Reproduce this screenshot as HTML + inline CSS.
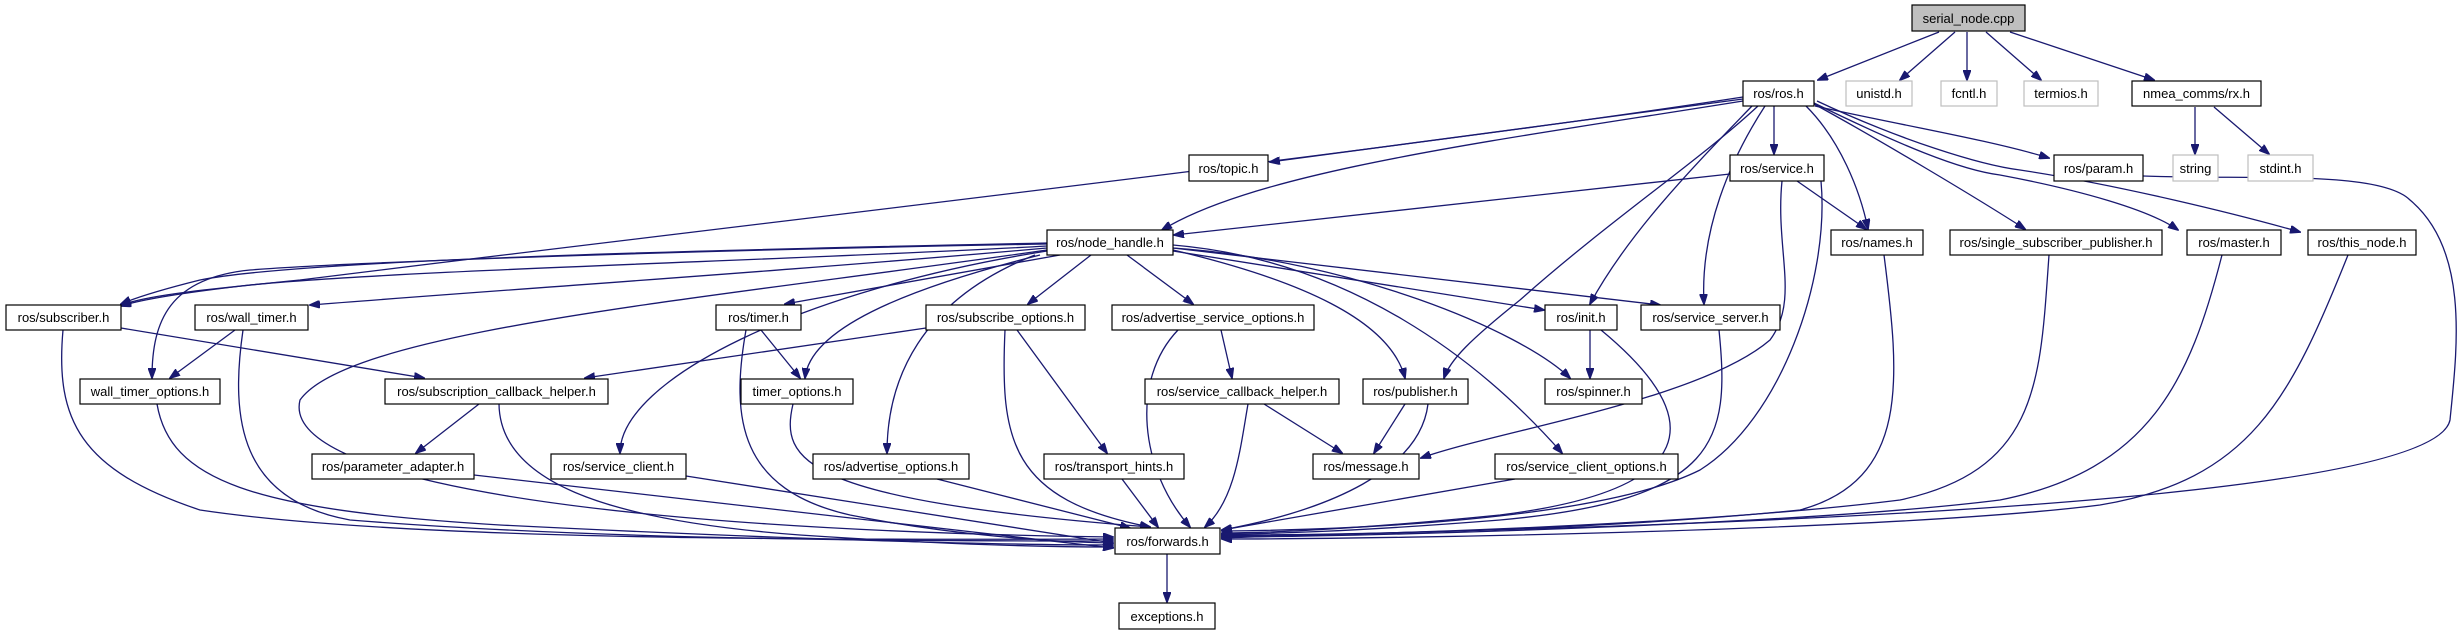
<!DOCTYPE html>
<html><head><meta charset="utf-8"><style>
html,body{margin:0;padding:0;background:#fff;}
svg{display:block;}
text{font-family:"Liberation Sans",sans-serif;font-size:13px;fill:#000;}
.b{fill:#fff;stroke:#000;stroke-width:1.2;}
.g{fill:#fff;stroke:#bfbfbf;stroke-width:1.2;}
.e{fill:none;stroke:#191970;stroke-width:1.3;marker-end:url(#a);}
</style></head><body>
<svg width="2462" height="635" viewBox="0 0 2462 635" xmlns="http://www.w3.org/2000/svg">
<defs><marker id="a" markerUnits="userSpaceOnUse" markerWidth="11" markerHeight="8" refX="10" refY="4" orient="auto"><path d="M0,0 L11,4 L0,8 z" fill="#191970" stroke="#191970"/></marker></defs>
<g>
<path class="e" d="M1939,32 L1818,80"/>
<path class="e" d="M1955,32 L1900,80"/>
<path class="e" d="M1967,32 L1967,80"/>
<path class="e" d="M1986,32 L2041,80"/>
<path class="e" d="M2010,32 L2154,80"/>
<path class="e" d="M2195,107 L2195,154"/>
<path class="e" d="M2214,107 L2269,154"/>
<path class="e" d="M1815,106 C1900,125 1990,140 2049,158"/>
<path class="e" d="M1743,99 L1270,162"/>
<path class="e" d="M1743,101 C1500,140 1260,170 1162,230"/>
<path class="e" d="M1743,97 C1400,150 700,230 300,280 C200,290 150,295 121,305"/>
<path class="e" d="M1774,106 L1774,154"/>
<path class="e" d="M1806,106 C1840,140 1860,190 1868,229"/>
<path class="e" d="M1814,104 C1880,140 1980,200 2025,229"/>
<path class="e" d="M1814,103 C1900,145 1960,170 2000,175 C2080,190 2150,210 2178,230"/>
<path class="e" d="M1817,101 C1900,140 1980,165 2020,170 C2120,185 2240,215 2300,232"/>
<path class="e" d="M1758,106 C1700,160 1610,220 1520,300 C1470,340 1450,360 1444,378"/>
<path class="e" d="M1752,106 C1700,160 1630,230 1590,304"/>
<path class="e" d="M1765,106 C1730,160 1700,230 1704,304"/>
<path class="e" d="M1730,174 L1174,235"/>
<path class="e" d="M1797,181 L1866,229"/>
<path class="e" d="M1782,181 C1775,250 1800,300 1770,340 C1700,400 1500,430 1421,458"/>
<path class="e" d="M1821,181 C1830,280 1780,420 1700,470 C1600,520 1350,530 1222,531"/>
<path class="e" d="M2143,176 C2250,180 2380,170 2410,200 C2470,250 2457,350 2450,420 C2430,520 1400,530 1222,538"/>
<path class="e" d="M1884,255 C1900,380 1910,480 1800,510 C1600,530 1350,535 1222,535"/>
<path class="e" d="M2049,255 C2040,380 2040,470 1900,500 C1700,525 1350,536 1222,536"/>
<path class="e" d="M2222,255 C2190,380 2150,470 2000,500 C1800,525 1350,537 1222,537"/>
<path class="e" d="M2348,255 C2290,400 2250,480 2100,505 C1900,530 1400,539 1222,539"/>
<path class="e" d="M1047,243 C700,250 300,260 200,280 C160,290 135,298 121,304"/>
<path class="e" d="M1047,246 C800,260 400,270 250,285 C180,293 140,300 121,306"/>
<path class="e" d="M1047,248 C800,270 500,290 310,305"/>
<path class="e" d="M1047,244 C700,250 350,262 250,270 C170,278 152,320 152,378"/>
<path class="e" d="M1047,250 C700,300 350,330 300,400 C280,480 600,530 1113,537"/>
<path class="e" d="M1047,251 C800,290 620,380 620,453"/>
<path class="e" d="M1060,255 L785,304"/>
<path class="e" d="M1040,255 C900,290 810,330 805,378"/>
<path class="e" d="M1035,255 C920,300 887,380 887,453"/>
<path class="e" d="M1091,255 L1028,304"/>
<path class="e" d="M1127,255 L1193,304"/>
<path class="e" d="M1173,250 C1300,280 1390,320 1405,378"/>
<path class="e" d="M1173,248 C1350,260 1520,330 1570,378"/>
<path class="e" d="M1173,245 C1350,260 1480,360 1562,453"/>
<path class="e" d="M1173,251 L1544,310"/>
<path class="e" d="M1173,248 L1660,305"/>
<path class="e" d="M121,328 L424,378"/>
<path class="e" d="M63,330 C55,420 80,470 200,510 C400,540 800,540 1113,539"/>
<path class="e" d="M235,330 L170,378"/>
<path class="e" d="M243,330 C230,420 240,500 350,520 C600,540 900,541 1113,541"/>
<path class="e" d="M761,330 L800,378"/>
<path class="e" d="M746,330 C730,420 740,490 850,515 C950,535 1050,542 1113,543"/>
<path class="e" d="M926,328 L585,378"/>
<path class="e" d="M1017,330 L1107,453"/>
<path class="e" d="M1005,330 C1000,440 1010,500 1150,527"/>
<path class="e" d="M1221,330 L1232,378"/>
<path class="e" d="M1178,330 C1130,380 1140,470 1190,527"/>
<path class="e" d="M1590,330 L1590,378"/>
<path class="e" d="M1601,330 C1710,420 1700,490 1500,515 C1350,530 1260,533 1222,533"/>
<path class="e" d="M1719,330 C1730,440 1720,500 1500,520 C1350,532 1260,534 1222,534"/>
<path class="e" d="M157,404 C170,480 250,510 500,525 C800,540 1000,545 1113,545"/>
<path class="e" d="M479,404 L416,453"/>
<path class="e" d="M499,404 C500,480 600,520 800,535 C950,545 1050,547 1113,547"/>
<path class="e" d="M793,404 C780,460 800,500 1150,527"/>
<path class="e" d="M1264,404 L1342,453"/>
<path class="e" d="M1248,404 C1240,450 1235,500 1205,527"/>
<path class="e" d="M1405,404 L1374,453"/>
<path class="e" d="M1428,404 C1420,470 1330,510 1222,530"/>
<path class="e" d="M474,475 L1113,548"/>
<path class="e" d="M686,476 L1113,543"/>
<path class="e" d="M937,479 L1130,528"/>
<path class="e" d="M1122,479 L1158,527"/>
<path class="e" d="M1515,479 L1222,530"/>
<path class="e" d="M1167,554 L1167,602"/>
</g>
<g>
<rect x="1912" y="5" width="113" height="26" fill="#bfbfbf" stroke="#000" stroke-width="1.2"/><text x="1968.5" y="23" text-anchor="middle">serial_node.cpp</text>
<rect class="b" x="1743" y="81" width="71" height="25"/><text x="1778.5" y="98" text-anchor="middle">ros/ros.h</text>
<rect class="g" x="1846" y="81" width="66" height="25"/><text x="1879" y="98" text-anchor="middle">unistd.h</text>
<rect class="g" x="1941" y="81" width="56" height="25"/><text x="1969" y="98" text-anchor="middle">fcntl.h</text>
<rect class="g" x="2024" y="81" width="74" height="25"/><text x="2061" y="98" text-anchor="middle">termios.h</text>
<rect class="b" x="2132" y="81" width="129" height="25"/><text x="2196.5" y="98" text-anchor="middle">nmea_comms/rx.h</text>
<rect class="b" x="1189" y="155" width="79" height="26"/><text x="1228.5" y="173" text-anchor="middle">ros/topic.h</text>
<rect class="b" x="1730" y="155" width="94" height="26"/><text x="1777" y="173" text-anchor="middle">ros/service.h</text>
<rect class="b" x="2054" y="155" width="89" height="26"/><text x="2098.5" y="173" text-anchor="middle">ros/param.h</text>
<rect class="g" x="2173" y="155" width="45" height="26"/><text x="2195.5" y="173" text-anchor="middle">string</text>
<rect class="g" x="2248" y="155" width="65" height="26"/><text x="2280.5" y="173" text-anchor="middle">stdint.h</text>
<rect class="b" x="1047" y="230" width="126" height="25"/><text x="1110" y="247" text-anchor="middle">ros/node_handle.h</text>
<rect class="b" x="1831" y="230" width="92" height="25"/><text x="1877" y="247" text-anchor="middle">ros/names.h</text>
<rect class="b" x="1950" y="230" width="212" height="25"/><text x="2056" y="247" text-anchor="middle">ros/single_subscriber_publisher.h</text>
<rect class="b" x="2187" y="230" width="94" height="25"/><text x="2234" y="247" text-anchor="middle">ros/master.h</text>
<rect class="b" x="2308" y="230" width="108" height="25"/><text x="2362" y="247" text-anchor="middle">ros/this_node.h</text>
<rect class="b" x="6" y="305" width="115" height="25"/><text x="63.5" y="322" text-anchor="middle">ros/subscriber.h</text>
<rect class="b" x="195" y="305" width="113" height="25"/><text x="251.5" y="322" text-anchor="middle">ros/wall_timer.h</text>
<rect class="b" x="716" y="305" width="85" height="25"/><text x="758.5" y="322" text-anchor="middle">ros/timer.h</text>
<rect class="b" x="926" y="305" width="159" height="25"/><text x="1005.5" y="322" text-anchor="middle">ros/subscribe_options.h</text>
<rect class="b" x="1112" y="305" width="202" height="25"/><text x="1213" y="322" text-anchor="middle">ros/advertise_service_options.h</text>
<rect class="b" x="1545" y="305" width="72" height="25"/><text x="1581" y="322" text-anchor="middle">ros/init.h</text>
<rect class="b" x="1641" y="305" width="139" height="25"/><text x="1710.5" y="322" text-anchor="middle">ros/service_server.h</text>
<rect class="b" x="80" y="379" width="140" height="25"/><text x="150" y="396" text-anchor="middle">wall_timer_options.h</text>
<rect class="b" x="385" y="379" width="223" height="25"/><text x="496.5" y="396" text-anchor="middle">ros/subscription_callback_helper.h</text>
<rect class="b" x="741" y="379" width="112" height="25"/><text x="797" y="396" text-anchor="middle">timer_options.h</text>
<rect class="b" x="1145" y="379" width="194" height="25"/><text x="1242" y="396" text-anchor="middle">ros/service_callback_helper.h</text>
<rect class="b" x="1363" y="379" width="105" height="25"/><text x="1415.5" y="396" text-anchor="middle">ros/publisher.h</text>
<rect class="b" x="1545" y="379" width="97" height="25"/><text x="1593.5" y="396" text-anchor="middle">ros/spinner.h</text>
<rect class="b" x="312" y="454" width="162" height="25"/><text x="393" y="471" text-anchor="middle">ros/parameter_adapter.h</text>
<rect class="b" x="551" y="454" width="135" height="25"/><text x="618.5" y="471" text-anchor="middle">ros/service_client.h</text>
<rect class="b" x="813" y="454" width="156" height="25"/><text x="891" y="471" text-anchor="middle">ros/advertise_options.h</text>
<rect class="b" x="1044" y="454" width="140" height="25"/><text x="1114" y="471" text-anchor="middle">ros/transport_hints.h</text>
<rect class="b" x="1313" y="454" width="106" height="25"/><text x="1366" y="471" text-anchor="middle">ros/message.h</text>
<rect class="b" x="1495" y="454" width="183" height="25"/><text x="1586.5" y="471" text-anchor="middle">ros/service_client_options.h</text>
<rect class="b" x="1115" y="528" width="105" height="26"/><text x="1167.5" y="546" text-anchor="middle">ros/forwards.h</text>
<rect class="b" x="1119" y="603" width="96" height="26"/><text x="1167" y="621" text-anchor="middle">exceptions.h</text>
</g>
</svg>
</body></html>
